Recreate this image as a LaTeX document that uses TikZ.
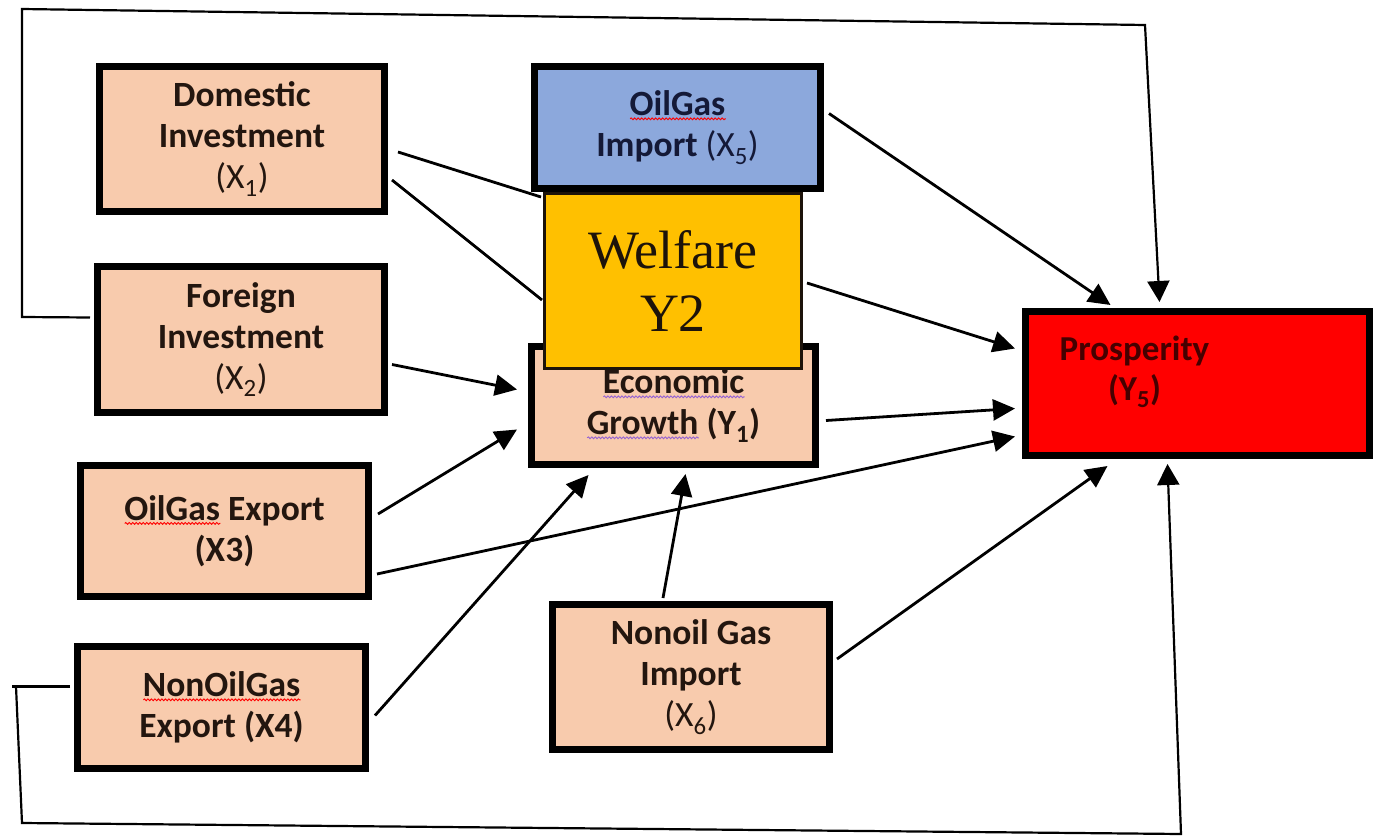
\documentclass[tikz,border=0pt]{standalone}
\usepackage{fontspec}
\setmainfont{Carlito}
\newfontfamily\welfont{Liberation Serif}
\usepackage{tikz}
\usetikzlibrary{arrows.meta,%
                positioning,calc,decorations.pathmorphing}

\definecolor{peach}{RGB}{248,203,173}
\definecolor{importblue}{RGB}{140,168,220}
\definecolor{welfareorange}{RGB}{255,192,0}
\definecolor{prosred}{RGB}{255,0,0}
\definecolor{boxtext}{RGB}{35,22,15}
\definecolor{navytext}{RGB}{20,25,55}
\definecolor{maroontext}{RGB}{70,0,0}
\definecolor{grammarpurple}{RGB}{150,100,210}

% spell check squiggles
\newlength\wavewd
\newcommand\spellwave[2][red]{\settowidth\wavewd{#2}\rlap{\raisebox{-4.5pt}{\tikz[x=1pt,y=1pt]\draw[#1, line width=0.9pt, decorate,
    decoration={snake, amplitude=0.9pt, segment length=3.5pt}] (0,0) -- (\wavewd,0);}}#2}

\tikzset{
  varbox/.style={draw=black, line width=7pt, fill=peach, text=boxtext, align=center,
                 inner sep=0pt, font=\fontsize{35.5}{41}\selectfont\bfseries},
  link/.style={line width=2.8pt, -{Triangle[length=22pt,width=21pt]}},
  loopline/.style={line width=2.2pt},
}

\begin{document}
\begin{tikzpicture}[x=1pt,y=-1pt]
   \useasboundingbox (0,0) rectangle (1376,837);

   % Left column
   \node[varbox, minimum width=285pt, minimum height=145pt] (dom) at (242,139) {Domestic\\Investment\\{\mdseries(X\textsubscript{1})}};
   \node[varbox, minimum width=287pt, minimum height=146pt] (fdi) at (241,339.5) {Foreign\\Investment\\{\mdseries(X\textsubscript{2})}};
   \node[varbox, minimum width=288pt, minimum height=131pt] (oge) at (224.5,531) {\spellwave{OilGas} Export\\(X3)};
   \node[varbox, minimum width=288pt, minimum height=122pt] (noe) at (221.5,707.5) {\spellwave{NonOilGas}\\Export (X4)};

   % Middle column
   \node[varbox, fill=importblue, text=navytext, minimum width=286pt, minimum height=122pt] (ogi) at (677.5,127.5) {\spellwave{OilGas}\\Import {\mdseries(X\textsubscript{5})}};
   \node[varbox, minimum width=284pt, minimum height=118pt] (eg) at (673.5,405.5) {\spellwave[grammarpurple]{Economic}\\\spellwave[grammarpurple]{Growth} (Y\textsubscript{1})};
   \node[draw=black!85!brown, line width=3pt, fill=welfareorange, text=black!85!brown, align=center, inner sep=0pt,
         font=\welfont\fontsize{54}{63}\selectfont, minimum width=257pt, minimum height=175pt] (wel) at (673,281) {Welfare\\Y2};
   \node[varbox, minimum width=277pt, minimum height=145pt] (ngi) at (691,677) {Nonoil Gas\\Import\\{\mdseries(X\textsubscript{6})}};

   % Target
   \node[varbox, fill=prosred, minimum width=344pt, minimum height=144pt,
         label={[name=prosname, xshift=-63pt, yshift=12pt, align=center, text=maroontext,
                 font=\fontsize{35}{40}\selectfont\bfseries]center:Prosperity\\(Y\textsubscript{5})}] (pros) at (1197.5,383.5) {};

   % Paths into welfare (tips hidden)
   \draw[line width=2.8pt] ($(dom.east)+(10,13)$) -- ($(wel.north west)+(-2,5)$);
   \draw[line width=2.8pt] ($(dom.east)+(4,41)$) -- ($(wel.west)+(-1,19)$);

   % Paths into economic growth
   \draw[link] ($(fdi.east)+(4,25)$) -- ($(eg.west)+(-11,-16)$);
   \draw[link] ($(oge.east)+(6,-17)$) -- ($(eg.west)+(-11,24)$);
   \draw[link] ($(noe.east)+(6,8)$) -- ($(eg.south)+(-85,7)$);
   \draw[link] ($(ngi.north)+(-28,-3)$) -- ($(eg.south)+(12,6)$);

   % Paths into prosperity
   \draw[link] ($(ogi.east)+(5,-14)$) -- ($(pros.north)+(-87,-3)$);
   \draw[link] ($(wel.east)+(4,2)$) -- ($(pros.west)+(-7,-35)$);
   \draw[link] ($(eg.east)+(7,15)$) -- ($(pros.west)+(-7,25)$);
   \draw[link] ($(oge.east)+(5,43)$) -- ($(pros.west)+(-7,53)$);
   \draw[link] ($(ngi.east)+(4,-18)$) -- ($(pros.south)+(-90,7)$);

   % Top loop
   \draw[loopline, -{Triangle[length=21pt,width=22pt]}] ($(fdi.west)+(-4,-22)$) -- (22,317) -- (22,9) -- (1145,25) -- ($(pros.north)+(-38,-6)$);

   % Bottom loop
   \draw[loopline] ($(noe.west)+(-4,-21)$) -- (12,686.5);
   \draw[loopline, -{Triangle[length=21pt,width=22pt]}] (16,686.5) -- (22,823) -- (1181,834) -- ($(pros.south)+(-30,5)$);

\end{tikzpicture}
\end{document}
